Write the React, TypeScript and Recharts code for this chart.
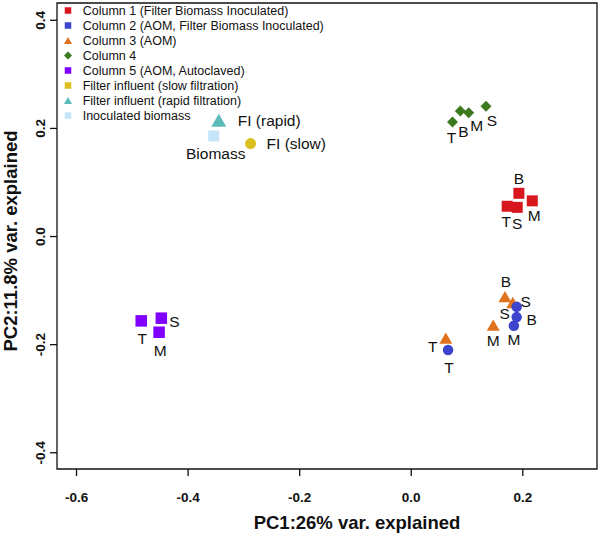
import React from 'react';
import { ScatterChart, Scatter, XAxis, YAxis, ReferenceArea, Label } from 'recharts';

const FONT = '"Liberation Sans", Arial, sans-serif';

// PC1 / PC2 scores
const COL1_X = [0.193, 0.172, 0.19, 0.217];
const COL1_Y = [0.08, 0.056, 0.054, 0.066];
const COL1_LABELS = ['B', 'T', 'S', 'M'];

const COL2_X = [0.189, 0.189, 0.184, 0.066];
const COL2_Y = [-0.13, -0.149, -0.165, -0.21];
const COL2_LABELS = ['S', 'B', 'M', 'T'];

const COL3_X = [0.168, 0.182, 0.147, 0.062];
const COL3_Y = [-0.111, -0.122, -0.164, -0.188];
const COL3_LABELS = ['B', 'S', 'M', 'T'];

const COL4_X = [0.074, 0.088, 0.103, 0.134];
const COL4_Y = [0.212, 0.232, 0.229, 0.241];
const COL4_LABELS = ['T', 'B', 'M', 'S'];

const COL5_X = [-0.484, -0.448, -0.452];
const COL5_Y = [-0.156, -0.151, -0.177];
const COL5_LABELS = ['T', 'S', 'M'];

const FI_SLOW_X = [-0.288];
const FI_SLOW_Y = [0.172];
const FI_SLOW_LABELS = ['FI (slow)'];

const FI_RAPID_X = [-0.345];
const FI_RAPID_Y = [0.215];
const FI_RAPID_LABELS = ['FI (rapid)'];

const BIOMASS_X = [-0.354];
const BIOMASS_Y = [0.186];
const BIOMASS_LABELS = ['Biomass'];

const X_TICKS = [-0.6, -0.4, -0.2, 0, 0.2];
const Y_TICKS = [-0.4, -0.2, 0, 0.2, 0.4];
const X_DOMAIN: [number, number] = [-0.635, 0.333];
const Y_DOMAIN: [number, number] = [-0.43, 0.432];

// label placement relative to each marker, in px: [dx, dy, anchor]
const OFFSETS: Record<string, [number, number, string][]> = {
  col1: [[0, -15, 'middle'], [-1, 15, 'middle'], [0, 16, 'middle'], [2, 15, 'middle']],
  col2: [[9, -5, 'middle'], [15, 2, 'middle'], [0, 14, 'middle'], [1, 17, 'middle']],
  col3: [[1, -15, 'middle'], [-8, 11, 'middle'], [0, 15, 'middle'], [-13, 8, 'middle']],
  col4: [[-1, 16, 'middle'], [3, 20, 'middle'], [8, 13, 'middle'], [6, 14, 'middle']],
  col5: [[1, 18, 'middle'], [13, 3, 'middle'], [1, 18, 'middle']],
  fiSlow: [[16, 0, 'start']],
  fiRapid: [[19, 0, 'start']],
  biomass: [[2, 18, 'middle']],
};

const toRows = (xs: number[], ys: number[], labels: string[]) =>
  xs.map((x, i) => ({ x, y: ys[i], label: labels[i] }));

type Kind = 'square' | 'circle' | 'triangle' | 'diamond';

const SERIES = [
  { key: 'col1', name: 'Column 1 (Filter Biomass Inoculated)', color: '#d8161e', kind: 'square' as Kind, legendKind: 'square' as Kind, size: 11, data: toRows(COL1_X, COL1_Y, COL1_LABELS) },
  { key: 'col3', name: 'Column 3 (AOM)', color: '#e0721d', kind: 'triangle' as Kind, legendKind: 'triangle' as Kind, size: 13, data: toRows(COL3_X, COL3_Y, COL3_LABELS) },
  { key: 'col2', name: 'Column 2 (AOM, Filter Biomass Inoculated)', color: '#3d45cc', kind: 'circle' as Kind, legendKind: 'square' as Kind, size: 10.5, data: toRows(COL2_X, COL2_Y, COL2_LABELS) },
  { key: 'col4', name: 'Column 4', color: '#3b7a1f', kind: 'diamond' as Kind, legendKind: 'diamond' as Kind, size: 11, data: toRows(COL4_X, COL4_Y, COL4_LABELS) },
  { key: 'col5', name: 'Column 5 (AOM, Autoclaved)', color: '#7f00ff', kind: 'square' as Kind, legendKind: 'square' as Kind, size: 11.5, data: toRows(COL5_X, COL5_Y, COL5_LABELS) },
  { key: 'fiSlow', name: 'Filter influent (slow filtration)', color: '#dcc020', kind: 'circle' as Kind, legendKind: 'square' as Kind, size: 11, data: toRows(FI_SLOW_X, FI_SLOW_Y, FI_SLOW_LABELS) },
  { key: 'fiRapid', name: 'Filter influent (rapid filtration)', color: '#5cbcbc', kind: 'triangle' as Kind, legendKind: 'triangle' as Kind, size: 15, data: toRows(FI_RAPID_X, FI_RAPID_Y, FI_RAPID_LABELS) },
  { key: 'biomass', name: 'Inoculated biomass', color: '#c6e5f8', kind: 'square' as Kind, legendKind: 'square' as Kind, size: 11, data: toRows(BIOMASS_X, BIOMASS_Y, BIOMASS_LABELS) },
];

const LEGEND_ORDER = ['col1', 'col2', 'col3', 'col4', 'col5', 'fiSlow', 'fiRapid', 'biomass'];

const Marker = ({ kind, cx, cy, size, color }: { kind: Kind; cx: number; cy: number; size: number; color: string }) => {
  const h = size / 2;
  if (kind === 'square') return <rect x={cx - h} y={cy - h} width={size} height={size} fill={color} />;
  if (kind === 'circle') return <circle cx={cx} cy={cy} r={h} fill={color} />;
  if (kind === 'diamond')
    return <polygon points={`${cx},${cy - h} ${cx + h},${cy} ${cx},${cy + h} ${cx - h},${cy}`} fill={color} />;
  const th = size * 0.87;
  return <polygon points={`${cx},${cy - th / 2} ${cx + h},${cy + th / 2} ${cx - h},${cy + th / 2}`} fill={color} />;
};

const makeShape = (s: (typeof SERIES)[number]) => (props: any) => {
  const { cx, cy, index, payload } = props;
  const [dx, dy, anchor] = OFFSETS[s.key][index] || [0, 0, 'middle'];
  return (
    <g>
      <Marker kind={s.kind} cx={cx} cy={cy} size={s.size} color={s.color} />
      <text
        x={cx + dx}
        y={cy + dy}
        textAnchor={anchor as any}
        dominantBaseline="central"
        fontSize={15.5}
        fontFamily={FONT}
        fill="#111"
      >
        {payload.label}
      </text>
    </g>
  );
};

const XTick = ({ x, y, payload }: any) => (
  <text x={x} y={y + 19.5} textAnchor="middle" dominantBaseline="central" fontSize={13.5} fontWeight="bold" fontFamily={FONT} fill="#111">
    {Number(payload.value).toFixed(1)}
  </text>
);

const YTick = ({ x, y, payload }: any) => {
  const cx = x - 7.5;
  return (
    <text x={cx} y={y} transform={`rotate(-90, ${cx}, ${y})`} textAnchor="middle" dominantBaseline="central" fontSize={13.5} fontWeight="bold" fontFamily={FONT} fill="#111">
      {Number(payload.value).toFixed(1)}
    </text>
  );
};

const LegendIcon = ({ kind, color }: { kind: Kind; color: string }) => (
  <svg width={14} height={15} style={{ flex: 'none' }}>
    <Marker kind={kind} cx={7} cy={7.5} size={kind === 'square' ? 6.5 : 8} color={color} />
  </svg>
);

export default function App() {
  return (
    <div style={{ position: 'absolute', left: 0, top: 0, width: 600, height: 540, background: '#fff' }}>
      <ScatterChart width={600} height={540} margin={{ top: 3, right: 3, bottom: 0, left: 0 }}>
        <XAxis
          type="number"
          dataKey="x"
          domain={X_DOMAIN}
          ticks={X_TICKS}
          allowDataOverflow
          height={71}
          axisLine={false}
          tickSize={7}
          tickMargin={2}
          tickLine={{ stroke: '#111', strokeWidth: 1.3 }}
          tick={<XTick />}
        >
          <Label
            value="PC1:26% var. explained"
            position="insideBottom"
            offset={11}
            dx={30}
            style={{ fontSize: 18.5, fontWeight: 'bold', fontFamily: FONT, fill: '#111' }}
          />
        </XAxis>
        <YAxis
          type="number"
          dataKey="y"
          domain={Y_DOMAIN}
          ticks={Y_TICKS}
          allowDataOverflow
          width={57}
          axisLine={false}
          tickSize={7}
          tickMargin={2}
          tickLine={{ stroke: '#111', strokeWidth: 1.3 }}
          tick={<YTick />}
        >
          <Label
            value="PC2:11.8% var. explained"
            position="center"
            angle={-90}
            dx={-18.5}
            dy={5}
            style={{ fontSize: 18.5, fontWeight: 'bold', fontFamily: FONT, fill: '#111', textAnchor: 'middle' }}
          />
        </YAxis>
        <ReferenceArea
          x1={X_DOMAIN[0]}
          x2={X_DOMAIN[1]}
          y1={Y_DOMAIN[0]}
          y2={Y_DOMAIN[1]}
          fill="none"
          stroke="#111"
          strokeWidth={1.3}
          fillOpacity={0}
        />
        {SERIES.map((s) => (
          <Scatter key={s.key} name={s.name} data={s.data} fill={s.color} shape={makeShape(s)} isAnimationActive={false} />
        ))}
      </ScatterChart>
      <div style={{ position: 'absolute', left: 61.3, top: 3, fontFamily: FONT, fontSize: 12.5, color: '#111' }}>
        {LEGEND_ORDER.map((k) => {
          const s = SERIES.find((e) => e.key === k)!;
          return (
            <div key={k} style={{ display: 'flex', alignItems: 'center', height: 15, whiteSpace: 'nowrap' }}>
              <LegendIcon kind={s.legendKind} color={s.color} />
              <span style={{ marginLeft: 7.4 }}>{s.name}</span>
            </div>
          );
        })}
      </div>
    </div>
  );
}
